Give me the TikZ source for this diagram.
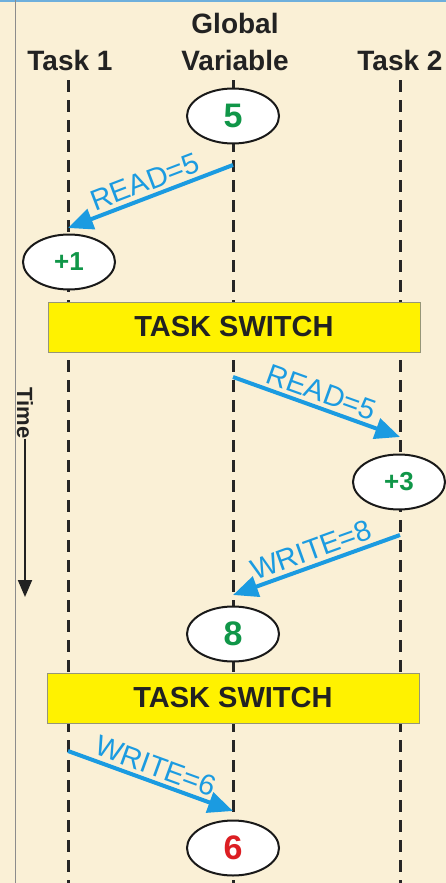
\documentclass[tikz,border=0pt]{standalone}
\usepackage{fontspec}
\setmainfont{Liberation Sans}
\usetikzlibrary{shapes.geometric,arrows.meta}
\definecolor{bgc}{RGB}{250,240,214}
\definecolor{numgreen}{RGB}{16,150,72}
\definecolor{numred}{RGB}{220,30,35}
\definecolor{arrblue}{RGB}{27,155,225}
\definecolor{swyellow}{RGB}{255,242,0}
\definecolor{swborder}{RGB}{150,150,120}
\definecolor{txtdark}{RGB}{34,34,34}
\definecolor{topblue}{RGB}{110,175,220}
\tikzset{
  lifeline/.style={line width=3pt, dash pattern=on 12pt off 8pt, black!85},
  header/.style={font=\fontsize{28}{30}\selectfont\bfseries, text=txtdark, inner sep=0pt},
  valbox/.style={ellipse, draw=black!90, line width=2pt, fill=white,
    minimum width=92pt, minimum height=55pt, inner sep=0pt},
  bignum/.style={font=\fontsize{34}{34}\selectfont\bfseries},
  smallnum/.style={font=\fontsize{26}{26}\selectfont\bfseries, text=numgreen},
  switchbox/.style={draw=swborder, line width=1pt, fill=swyellow,
    minimum width=372pt, minimum height=50pt, inner sep=0pt,
    font=\fontsize{29}{29}\selectfont\bfseries, text=txtdark},
  msg/.style={draw=arrblue, line width=4pt, -{Triangle[length=25pt,width=21pt]}},
  msglabel/.style={font=\fontsize{29}{29}\selectfont, text=arrblue, sloped, above, inner sep=3.5pt, midway}
}
\begin{document}
\begin{tikzpicture}[x=1pt,y=-1pt]
  \useasboundingbox (0,0) rectangle (446,883);
  \fill[bgc] (0,0) rectangle (446,883);
  \draw[topblue, line width=2.5pt] (0,1) -- (446,1);
  \draw[black!45, line width=1pt] (15,0) -- (15,883);

  % headers
  \node[header] (h1) at (70,60) {Task 1};
  \node[header] (hg1) at (235,23) {Global};
  \node[header] (hg2) at (235,60) {Variable};
  \node[header] (h2) at (400,60) {Task 2};

  % lifelines
  \coordinate (t1top) at (68,80);   \coordinate (t1bot) at (68,883);
  \coordinate (gtop) at (233,80);   \coordinate (gbot) at (233,883);
  \coordinate (t2top) at (400,80);  \coordinate (t2bot) at (400,883);
  \draw[lifeline] (t1top) -- (t1bot);
  \draw[lifeline] (gtop) -- (gbot);
  \draw[lifeline] (t2top) -- (t2bot);

  % value ellipses
  \node[valbox, bignum, text=numgreen] (v5) at (233,116) {5};
  \node[valbox, smallnum] (p1) at (69,262) {+1};
  \node[valbox, smallnum] (p3) at (399,482) {+3};
  \node[valbox, bignum, text=numgreen] (v8) at (233,634) {8};
  \node[valbox, bignum, text=numred] (v6) at (233,848) {6};

  % task switch boxes
  \node[switchbox] (sw1) at (234,327) {TASK SWITCH};
  \node[switchbox] (sw2) at (233,698) {TASK SWITCH};

  % message arrows
  \coordinate (a1s) at (233,165); \coordinate (a1e) at (68,228);
  \coordinate (a2s) at (233,377); \coordinate (a2e) at (400,437);
  \coordinate (a3s) at (400,535); \coordinate (a3e) at (233,595);
  \coordinate (a4s) at (68,751);  \coordinate (a4e) at (233,811);
  \draw[msg] (a1s) -- node[msglabel] {READ=5} (a1e);
  \draw[msg] (a2s) -- node[msglabel] {READ=5} (a2e);
  \draw[msg] (a3s) -- node[msglabel] {WRITE=8} (a3e);
  \draw[msg] (a4s) -- node[msglabel] {WRITE=6} (a4e);

  % time axis
  \node[font=\fontsize{22}{22}\selectfont\bfseries, text=txtdark, rotate=-90, inner sep=0pt] (time) at (25,413) {Time};
  \coordinate (timeend) at (25,597);
  \draw[line width=2pt, txtdark, -{Triangle[length=17pt,width=14pt]}] (time.east) -- (timeend);
\end{tikzpicture}
\end{document}
